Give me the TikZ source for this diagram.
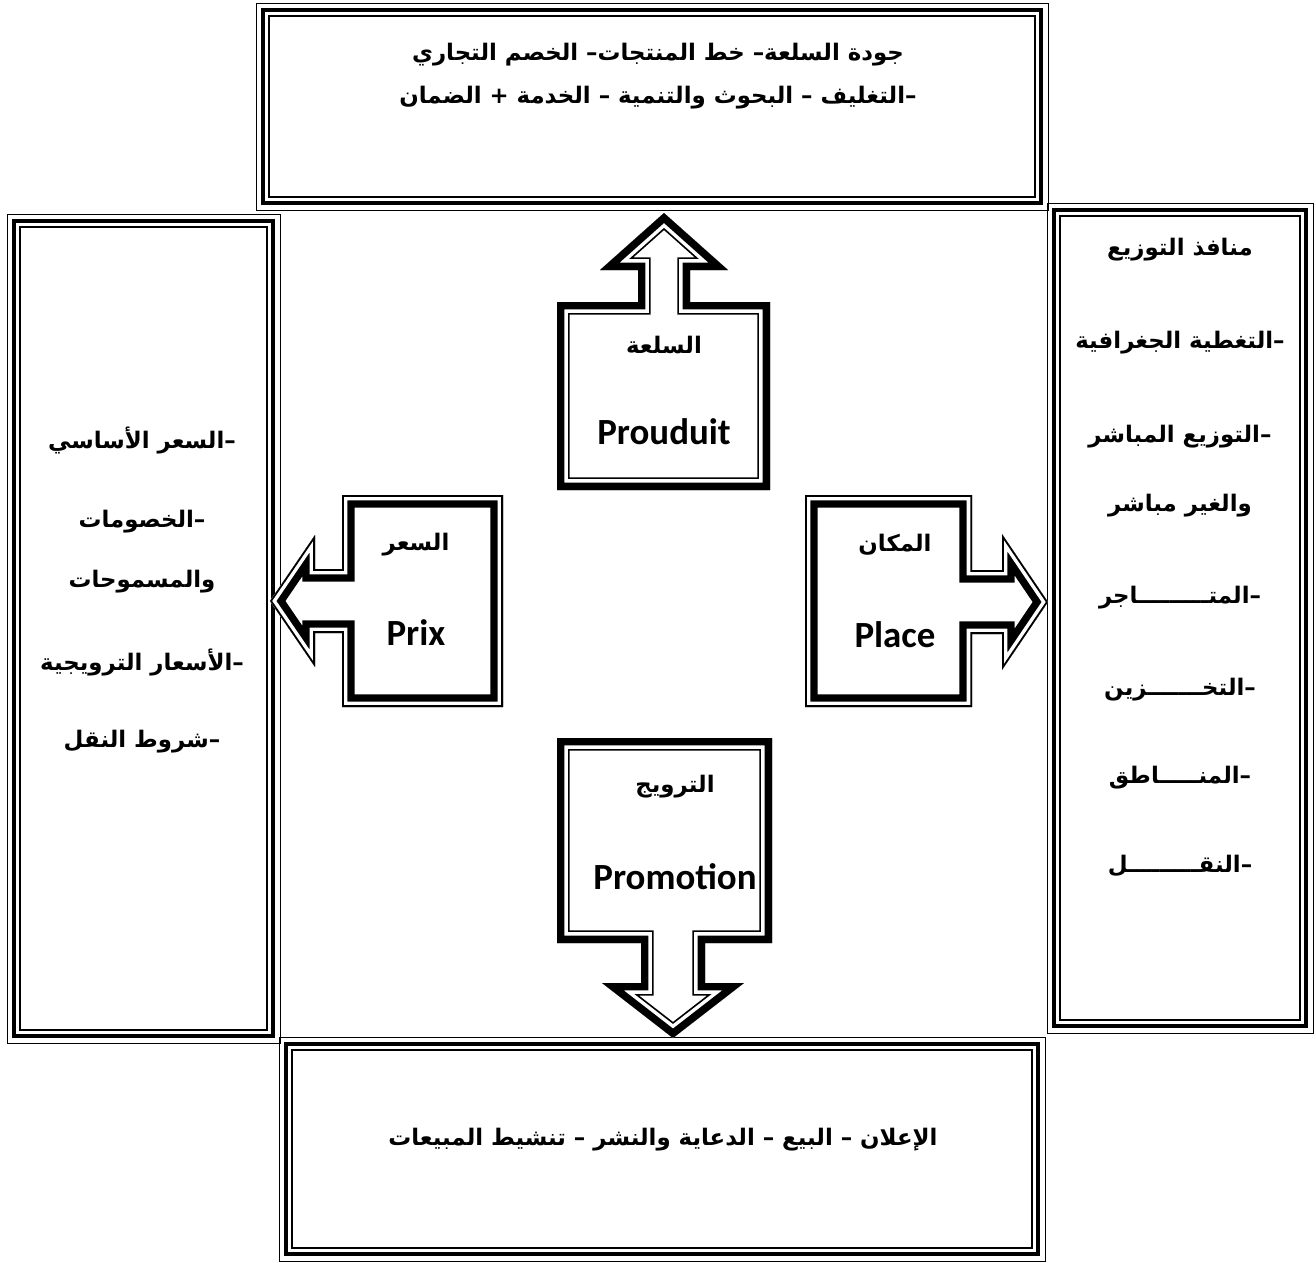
\documentclass[tikz,border=0pt]{standalone}
\usepackage{fontspec}
\newfontfamily\arabicfont[Script=Arabic]{DejaVu Sans}
\newfontfamily\latinfont{Carlito}
\TeXXeTstate=1
\usetikzlibrary{calc}
\newcommand\ar[1]{\beginR #1\endR}
\newcommand\triplebox[4]{%
  \draw[line width=0.5pt] (#1,#2) rectangle (#3,#4);
  \draw[line width=2.8pt] (#1+7,#2+7) rectangle (#3-7,#4-7);
  \draw[line width=1.1pt] (#1+13,#2+13) rectangle (#3-13,#4-13);}
\newcommand\compound[4]{%
  \begin{scope}
    \clip[#1];
    \fill[white,#1];
    \draw[#1,line width=#2];
    \draw[#1,white,line width=#3];
    \draw[#1,line width=#4];
  \end{scope}}
\tikzset{
  artext/.style={font=\arabicfont\bfseries\fontsize{13}{15}\selectfont, inner sep=0pt},
  latext/.style={font=\latinfont\bfseries\fontsize{21}{24}\selectfont, inner sep=0pt},
  produitshape/.style={insert path={(557,302) -- (638,302) -- (638,270) -- (600,270) -- (664,213) -- (728,270) -- (690,270) -- (690,302) -- (770,302) -- (770,490) -- (557,490) -- cycle}},
  promoshape/.style={insert path={(557,738) -- (772,738) -- (772,943) -- (705,943) -- (705,983) -- (744,983) -- (673,1038) -- (602,983) -- (641,983) -- (641,943) -- (557,943) -- cycle}},
  prixshape/.style={insert path={(503,495) -- (503,707) -- (342,707) -- (342,633) -- (315,633) -- (315,667) -- (270,601) -- (315,535) -- (315,569) -- (342,569) -- (342,495) -- cycle}},
  placeshape/.style={insert path={(805,495) -- (972,495) -- (972,570) -- (1002,570) -- (1002,534) -- (1048,602) -- (1002,670) -- (1002,634) -- (972,634) -- (972,707) -- (805,707) -- cycle}}
}
\begin{document}
\begin{tikzpicture}[x=0.2mm,y=-0.2mm,line join=miter]
\useasboundingbox (0,0) rectangle (1316,1263);
\triplebox{256}{3}{1048}{210}
\triplebox{7}{214}{280}{1043}
\triplebox{1047}{203}{1313}{1033}
\triplebox{279}{1037}{1045}{1261}

\compound{produitshape}{14.5pt}{12.5pt}{8.5pt}
\compound{promoshape}{14.5pt}{12.5pt}{8.5pt}
\compound{prixshape}{14.5pt}{6pt}{2pt}
\compound{placeshape}{14.5pt}{6pt}{2pt}

\node[artext] (produitAr) at (664,345) {\ar{السلعة}};
\node[latext] (produitLat) at (664,432) {Prouduit};
\node[artext] (prixAr) at (416,545) {\ar{السعر}};
\node[latext] (prixLat) at (416,633) {Prix};
\node[artext] (placeAr) at (895,545) {\ar{المكان}};
\node[latext] (placeLat) at (895,635) {Place};
\node[artext] (promoAr) at (675,787) {\ar{الترويج}};
\node[latext] (promoLat) at (675,877) {Promotion};

\node[artext] (top1) at (658,55) {\ar{جودة السلعة– خط المنتجات– الخصم التجاري}};
\node[artext] (top2) at (658,98) {\ar{–التغليف – البحوث والتنمية – الخدمة + الضمان}};
\node[artext] (bottom1) at (663,1140) {\ar{الإعلان – البيع – الدعاية والنشر – تنشيط المبيعات}};

\foreach \y/\t [count=\i] in {440/{–السعر الأساسي}, 522/{–الخصومات}, 582/{والمسموحات}, 662/{–الأسعار الترويجية}, 742/{–شروط النقل}}
  \node[artext] (left\i) at (142,\y) {\ar{\t}};

\foreach \y/\t [count=\i] in {250/{منافذ التوزيع}, 343/{–التغطية الجغرافية}, 437/{–التوزيع المباشر}, 506/{والغير مباشر}, 598/{–المتـــــــــاجر}, 690/{–التخـــــــزين}, 778/{–المنـــــاطق}, 866/{–النقـــــــــل}}
  \node[artext] (right\i) at (1180,\y) {\ar{\t}};
\end{tikzpicture}
\end{document}
